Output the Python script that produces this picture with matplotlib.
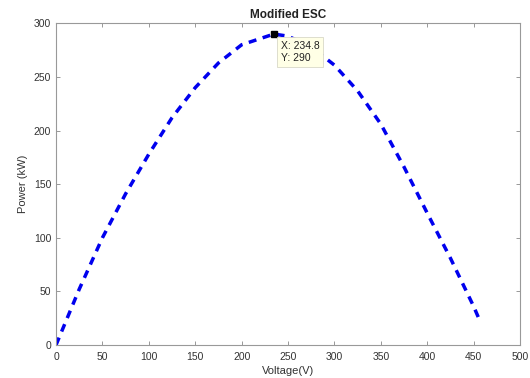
import numpy as np
import matplotlib.pyplot as plt

plt.rcParams['font.family'] = ['Liberation Sans', 'DejaVu Sans']

# readings
voltage = [0, 25, 50, 75, 100, 125, 150, 175, 200, 234.8, 250, 275, 300,
           325, 350, 375, 400, 425, 450, 457]
power = [0, 52, 100, 141, 178, 212, 240, 263, 280, 290, 288, 278, 261,
         237, 206, 166, 123, 81, 36, 22]

peak_v = 234.8
peak_p = 290

x_ticks = [0, 50, 100, 150, 200, 250, 300, 350, 400, 450, 500]
y_ticks = [0, 50, 100, 150, 200, 250, 300]

fig = plt.figure(figsize=(5.3, 3.78), dpi=100)
ax = fig.add_axes([0.1057, 0.0873, 0.8755, 0.851])

ax.plot(voltage, power, color='#0000ee', lw=2.5, dashes=(2.3, 1.9),
        solid_capstyle='butt', dash_capstyle='butt')

# data tip
ax.plot([peak_v], [peak_p], marker='s', ms=5, color='black', mec='black')
ax.annotate(f'X: {peak_v}\nY: {peak_p}', xy=(peak_v, peak_p),
            xytext=(5, -5), textcoords='offset points', ha='left', va='top',
            fontsize=7.5, color='#222222', linespacing=1.25,
            bbox=dict(boxstyle='square,pad=0.35', fc='#ffffe6', ec='#d8d8c8', lw=0.6))

ax.set_xlim(0, 500)
ax.set_ylim(0, 300)
ax.set_xticks(x_ticks)
ax.set_yticks(y_ticks)
ax.tick_params(direction='in', length=3, width=0.6, colors='#888888',
               labelcolor='#333333', labelsize=7.5, top=True, right=True)
ax.tick_params(axis='x', pad=5)
for s in ax.spines.values():
    s.set_color('#999999')
    s.set_linewidth(0.8)

ax.set_xlabel('Voltage(V)', fontsize=8, color='#333333', labelpad=3)
ax.set_ylabel('Power (kW)', fontsize=8, color='#333333', labelpad=4)
ax.set_title('Modified ESC', fontsize=8.5, fontweight='bold', color='#222222', pad=4)

fig.savefig('out.png', dpi=100)
